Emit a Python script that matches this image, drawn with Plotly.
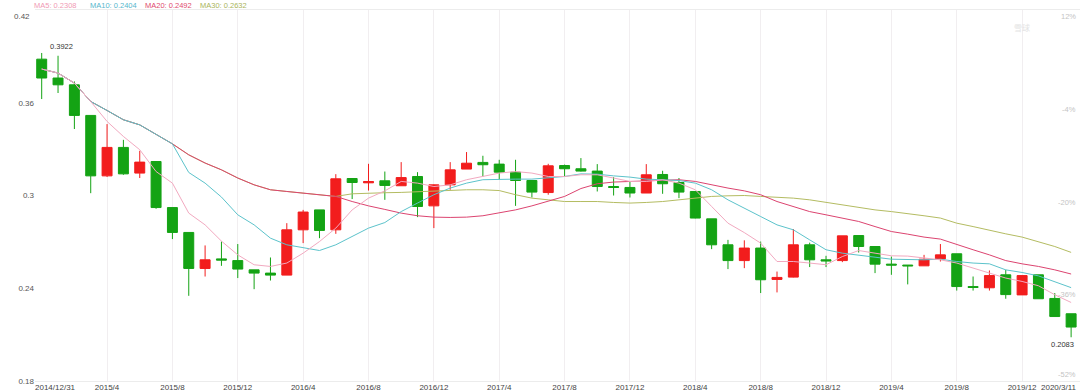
import plotly.graph_objects as go

# ---- data (monthly candles, 2014/12 .. 2020/3) ----
OPEN = [0.3882, 0.3760, 0.3716, 0.3518, 0.3127, 0.3311, 0.3145, 0.3220, 0.2922, 0.2761,
        0.2528, 0.2590, 0.2579, 0.2519, 0.2498, 0.2485, 0.2778, 0.2907, 0.2778, 0.3110,
        0.3082, 0.3095, 0.3063, 0.3123, 0.2933, 0.3069, 0.3171, 0.3214, 0.3203, 0.3151,
        0.3097, 0.3019, 0.3194, 0.3173, 0.3158, 0.3058, 0.3052, 0.3016, 0.3136, 0.3084,
        0.3026, 0.2849, 0.2681, 0.2579, 0.2660, 0.2457, 0.2472, 0.2681, 0.2584, 0.2579,
        0.2741, 0.2670, 0.2556, 0.2550, 0.2545, 0.2590, 0.2623, 0.2411, 0.2403, 0.2487,
        0.2357, 0.2487, 0.2334, 0.2235]
HIGH = [0.3922, 0.3904, 0.3738, 0.3518, 0.3462, 0.3360, 0.3289, 0.3222, 0.2922, 0.2761,
        0.2677, 0.2702, 0.2686, 0.2519, 0.2599, 0.2821, 0.2907, 0.2907, 0.3138, 0.3112,
        0.3205, 0.3155, 0.3216, 0.3151, 0.3071, 0.3216, 0.3281, 0.3257, 0.3231, 0.3231,
        0.3097, 0.3205, 0.3200, 0.3242, 0.3203, 0.3119, 0.3091, 0.3203, 0.3160, 0.3113,
        0.3026, 0.2849, 0.2713, 0.2710, 0.2702, 0.2508, 0.2783, 0.2695, 0.2610, 0.2739,
        0.2741, 0.2670, 0.2605, 0.2550, 0.2616, 0.2686, 0.2623, 0.2476, 0.2515, 0.2519,
        0.2482, 0.2487, 0.2369, 0.2235]
LOW = [0.3624, 0.3663, 0.3430, 0.3015, 0.3120, 0.3134, 0.3113, 0.2914, 0.2718, 0.2351,
       0.2476, 0.2545, 0.2466, 0.2394, 0.2450, 0.2485, 0.2692, 0.2724, 0.2752, 0.2977,
       0.3032, 0.2972, 0.3063, 0.2860, 0.2789, 0.3037, 0.3171, 0.3123, 0.3102, 0.2933,
       0.2987, 0.3005, 0.3123, 0.3155, 0.3026, 0.3000, 0.2987, 0.3016, 0.3011, 0.2983,
       0.2852, 0.2653, 0.2524, 0.2530, 0.2369, 0.2373, 0.2470, 0.2537, 0.2537, 0.2569,
       0.2631, 0.2498, 0.2487, 0.2425, 0.2545, 0.2573, 0.2385, 0.2385, 0.2385, 0.2332,
       0.2357, 0.2332, 0.2217, 0.2083]
CLOSE = [0.3760, 0.3716, 0.3518, 0.3127, 0.3311, 0.3140, 0.3216, 0.2922, 0.2761, 0.2528,
         0.2584, 0.2582, 0.2524, 0.2498, 0.2485, 0.2778, 0.2893, 0.2774, 0.3108, 0.3084,
         0.3090, 0.3065, 0.3116, 0.2929, 0.3069, 0.3166, 0.3209, 0.3199, 0.3151, 0.3097,
         0.3022, 0.3192, 0.3173, 0.3158, 0.3058, 0.3052, 0.3016, 0.3134, 0.3076, 0.3022,
         0.2854, 0.2681, 0.2579, 0.2660, 0.2455, 0.2470, 0.2681, 0.2584, 0.2577, 0.2739,
         0.2670, 0.2556, 0.2550, 0.2545, 0.2588, 0.2616, 0.2411, 0.2405, 0.2482, 0.2359,
         0.2482, 0.2332, 0.2217, 0.2149]

MA5 = [0.3818, 0.3792, 0.3727, 0.3608, 0.3479, 0.3382, 0.3296, 0.3155, 0.3080, 0.2886,
       0.2810, 0.2705, 0.2616, 0.2552, 0.2541, 0.2563, 0.2627, 0.2702, 0.2789, 0.2907,
       0.2983, 0.3030, 0.3091, 0.3080, 0.3058, 0.3069, 0.3102, 0.3123, 0.3145, 0.3155,
       0.3145, 0.3123, 0.3123, 0.3134, 0.3134, 0.3113, 0.3091, 0.3091, 0.3102, 0.3080,
       0.3037, 0.2929, 0.2821, 0.2760, 0.2692, 0.2573, 0.2573, 0.2563, 0.2552, 0.2605,
       0.2644, 0.2627, 0.2610, 0.2608, 0.2595, 0.2584, 0.2563, 0.2530, 0.2498, 0.2466,
       0.2444, 0.2416, 0.2358, 0.2308]
MA10 = [0.3818, 0.3792, 0.3727, 0.3608, 0.3550, 0.3490, 0.3457, 0.3397, 0.3334, 0.3149,
        0.3080, 0.2990, 0.2875, 0.2810, 0.2724, 0.2681, 0.2664, 0.2644, 0.2681, 0.2735,
        0.2789, 0.2825, 0.2896, 0.2951, 0.3005, 0.3048, 0.3080, 0.3102, 0.3106, 0.3106,
        0.3106, 0.3113, 0.3123, 0.3140, 0.3138, 0.3127, 0.3119, 0.3106, 0.3102, 0.3097,
        0.3080, 0.3037, 0.2972, 0.2920, 0.2864, 0.2810, 0.2778, 0.2713, 0.2649, 0.2627,
        0.2616, 0.2601, 0.2588, 0.2584, 0.2584, 0.2588, 0.2573, 0.2563, 0.2558, 0.2519,
        0.2502, 0.2480, 0.2444, 0.2404]
MA20 = [0.3818, 0.3792, 0.3727, 0.3608, 0.3550, 0.3490, 0.3457, 0.3397, 0.3334, 0.3263,
        0.3210, 0.3166, 0.3113, 0.3069, 0.3037, 0.3026, 0.3016, 0.3003, 0.2994, 0.2961,
        0.2933, 0.2910, 0.2886, 0.2869, 0.2860, 0.2858, 0.2860, 0.2869, 0.2886, 0.2907,
        0.2933, 0.2961, 0.2994, 0.3045, 0.3076, 0.3087, 0.3091, 0.3097, 0.3102, 0.3102,
        0.3091, 0.3069, 0.3048, 0.3030, 0.3005, 0.2961, 0.2929, 0.2896, 0.2875, 0.2854,
        0.2832, 0.2799, 0.2767, 0.2750, 0.2731, 0.2718, 0.2681, 0.2649, 0.2616, 0.2579,
        0.2558, 0.2541, 0.2519, 0.2492]
MA30 = [0.3818, 0.3792, 0.3727, 0.3608, 0.3550, 0.3490, 0.3457, 0.3397, 0.3334, 0.3263,
        0.3210, 0.3166, 0.3113, 0.3069, 0.3037, 0.3026, 0.3016, 0.3003, 0.2994, 0.3011,
        0.3016, 0.3018, 0.3020, 0.3024, 0.3030, 0.3035, 0.3037, 0.3037, 0.3032, 0.3005,
        0.2983, 0.2972, 0.2961, 0.2961, 0.2961, 0.2955, 0.2951, 0.2955, 0.2961, 0.2972,
        0.2983, 0.2994, 0.2998, 0.3000, 0.2994, 0.2990, 0.2983, 0.2972, 0.2955, 0.2940,
        0.2925, 0.2907, 0.2896, 0.2884, 0.2869, 0.2854, 0.2821, 0.2799, 0.2774, 0.2752,
        0.2731, 0.2702, 0.2670, 0.2632]

TICK_LABELS = ["2014/12/31", "2015/4", "2015/8", "2015/12", "2016/4", "2016/8", "2016/12",
               "2017/4", "2017/8", "2017/12", "2018/4", "2018/8", "2018/12", "2019/4",
               "2019/8", "2019/12", "2020/3/11"]
Y_TICKS = [0.18, 0.24, 0.30, 0.36, 0.42]
PCT_TICKS = [12, -4, -20, -36, -52]

# ---- styling / geometry ----
W, H = 1080, 391
ML, MR, MT, MB = 35, 0, 10, 10
PW, PH = W - ML - MR, H - MT - MB
FONT = "Liberation Sans, Arial, sans-serif"
RED, GREEN = "#f21d1d", "#14a314"
C_MA5, C_MA10, C_MA20, C_MA30 = "#f2a9c0", "#5cc3cb", "#dc4470", "#b4bc62"

N = len(CLOSE)
X = list(range(N))
TICK_IDX = list(range(0, N - 3, 4)) + [N - 1]


def px_x(p):
    return (p - ML) / PW


def px_y(p):
    return 1 - (p - MT) / PH


fig = go.Figure()
fig.add_trace(go.Candlestick(
    x=X, open=OPEN, high=HIGH, low=LOW, close=CLOSE,
    increasing=dict(line=dict(color=RED, width=1), fillcolor=RED),
    decreasing=dict(line=dict(color=GREEN, width=1), fillcolor=GREEN),
    whiskerwidth=0, showlegend=False, hoverinfo="skip"))

for name, vals, col in [("MA30", MA30, C_MA30), ("MA20", MA20, C_MA20),
                        ("MA10", MA10, C_MA10), ("MA5", MA5, C_MA5)]:
    fig.add_trace(go.Scatter(x=X, y=vals, mode="lines", name=name,
                             line=dict(color=col, width=1), showlegend=False,
                             hoverinfo="skip"))

# invisible trace to carry the right-hand percentage axis
fig.add_trace(go.Scatter(x=[X[0]], y=[PCT_TICKS[0]], yaxis="y2", mode="markers",
                         marker=dict(opacity=0), showlegend=False, hoverinfo="skip"))

annotations = []
# legend line at top
for name, vals, col, px in [("MA5", MA5, "#f09ab4", 32), ("MA10", MA10, "#55b6cc", 88),
                            ("MA20", MA20, "#e04a6e", 143), ("MA30", MA30, "#a9b45a", 198)]:
    annotations.append(dict(text=f"{name}: {vals[-1]:.4f}", xref="paper", yref="paper",
                            x=px_x(px), y=px_y(5.5), xanchor="left", yanchor="middle",
                            showarrow=False, font=dict(size=7.5, color=col, family=FONT)))
# max / min labels
imax = max(range(N), key=lambda i: HIGH[i])
imin = min(range(N), key=lambda i: LOW[i])
annotations.append(dict(text=f"{HIGH[imax]:.4f}", x=imax, y=HIGH[imax], xref="x", yref="y",
                        xanchor="left", yanchor="bottom", xshift=6, yshift=0,
                        showarrow=False, font=dict(size=7.5, color="#333", family=FONT)))
annotations.append(dict(text=f"{LOW[imin]:.4f}", x=imin, y=LOW[imin], xref="x", yref="y",
                        xanchor="right", yanchor="top", xshift=5, yshift=-1,
                        showarrow=False, font=dict(size=7.5, color="#333", family=FONT)))
# first / last date labels (kept inside the frame like the original)
annotations.append(dict(text=TICK_LABELS[0], x=TICK_IDX[0], y=0, xref="x", yref="paper",
                        xanchor="left", yanchor="top", xshift=-9, yshift=0,
                        showarrow=False, font=dict(size=8, color="#444", family=FONT)))
annotations.append(dict(text=TICK_LABELS[-1], x=TICK_IDX[-1], y=0, xref="x", yref="paper",
                        xanchor="right", yanchor="top", xshift=8, yshift=0,
                        showarrow=False, font=dict(size=8, color="#444", family=FONT)))
# top price label sits just below the frame line
annotations.append(dict(text=f"{Y_TICKS[-1]:g}", x=0, y=Y_TICKS[-1], xref="paper", yref="y",
                        xanchor="right", yanchor="top", xshift=-3, yshift=0,
                        showarrow=False, font=dict(size=8, color="#555", family=FONT)))
# right-hand percentage labels (inside the plot, faint)
for k, p in enumerate(PCT_TICKS):
    last = k == len(PCT_TICKS) - 1
    annotations.append(dict(text=f"{p}%", x=1, y=p, xref="paper", yref="y2",
                            xanchor="right", yanchor="bottom" if last else "top",
                            xshift=-2, yshift=0, showarrow=False,
                            font=dict(size=7.5, color="#c4c4c4", family=FONT)))
# faint watermark, top right
annotations.append(dict(text="雪球", xref="paper", yref="paper", x=px_x(1022), y=px_y(27),
                        xanchor="center", yanchor="middle", showarrow=False,
                        font=dict(size=8, color="#e3e3e3",
                                  family="Noto Sans CJK SC, sans-serif")))

x0 = -(41.7 - ML) / 16.34
fig.update_layout(
    width=W, height=H, margin=dict(l=ML, r=MR, t=MT, b=MB, autoexpand=False),
    paper_bgcolor="white", plot_bgcolor="white",
    font=dict(family=FONT, size=8, color="#444"),
    boxgap=0.39, boxgroupgap=0,
    showlegend=False,
    xaxis=dict(type="linear", range=[x0, x0 + PW / 16.34], rangeslider=dict(visible=False),
               tickvals=TICK_IDX[1:-1], ticktext=TICK_LABELS[1:-1],
               showgrid=True, gridcolor="#f1eef0", gridwidth=1, zeroline=False,
               showline=True, mirror=True, linecolor="#ececec", linewidth=1,
               ticks="", tickfont=dict(size=8, color="#444"), ticklabelstandoff=-2,
               fixedrange=True),
    yaxis=dict(range=[Y_TICKS[0], Y_TICKS[-1]], tickvals=Y_TICKS[:-1],
               ticktext=[f"{v:g}" for v in Y_TICKS[:-1]], showgrid=False, zeroline=False,
               showline=False, ticks="", tickfont=dict(size=8, color="#555")),
    yaxis2=dict(overlaying="y", side="right", range=[PCT_TICKS[-1], PCT_TICKS[0]],
                showticklabels=False, showgrid=False, zeroline=False, showline=False,
                ticks=""),
    annotations=annotations,
)

fig.write_html("out.html", config={"displayModeBar": False},
               post_script="document.body.style.margin='0';document.body.style.overflow='hidden';")
